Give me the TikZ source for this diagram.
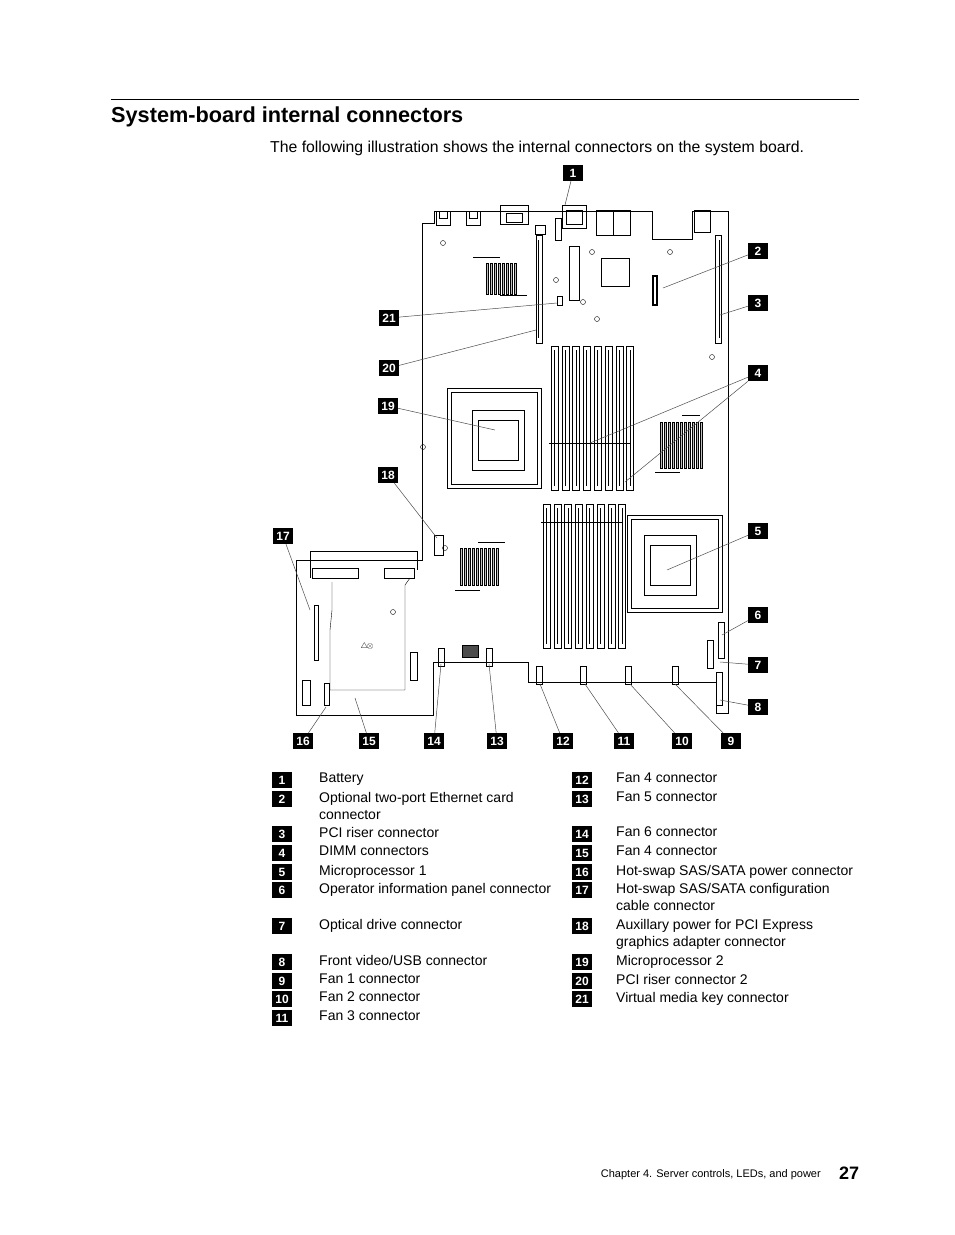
\documentclass[tikz,border=0pt]{standalone}
\usepackage{fontspec}
\setmainfont{Liberation Sans}
\begin{document}
\begin{tikzpicture}[x=1pt,y=-1pt,
 badge/.style={fill=black,text=white,font=\fontsize{12}{12}\selectfont\bfseries,minimum width=20pt,minimum height=16pt,inner sep=0pt},
 lbl/.style={anchor=north west,font=\fontsize{14}{17}\selectfont,inner sep=0pt,align=left},
 call/.style={draw=black!70,line width=0.5pt},
 part/.style={draw=black,line width=0.6pt},
 thin/.style={draw=black,line width=0.4pt}]
\useasboundingbox (0,0) rectangle (954,1235);
% header
\draw[line width=0.6pt] (111,99) -- (859,99);
\node[anchor=base west,inner sep=0pt,font=\fontsize{21.7}{24}\selectfont\bfseries] (title) at (111,122) {System-board internal connectors};
\node[anchor=base west,inner sep=0pt,font=\fontsize{15.8}{17}\selectfont] (intro) at (270,152) {The following illustration shows the internal connectors on the system board.};
% board outline
\draw[part] (434,211) -- (652,211) -- (652,239) -- (692,239) -- (692,211) -- (728,211) -- (728,713) -- (716,713) -- (716,682) -- (528,682) -- (528,662) -- (433,662) -- (433,715) -- (296,715) -- (296,560) -- (422,560) -- (422,223) -- (434,223) -- cycle;
% rear connectors
\foreach \x in {436,466} {\draw[thin] (\x,211) rectangle (\x+14,225); \draw[thin] (\x+3,211) rectangle (\x+11,218);}
\draw[thin] (500,205) rectangle (528,224); \draw[thin] (506,213) rectangle (522,222);
\draw[thin] (562,205) rectangle (586,228); \draw[thin] (566,210) rectangle (582,224);
\draw[thin] (596,210) rectangle (630,235); \draw[thin] (613,210) -- (613,235);
\draw[thin] (694,210) rectangle (710,232);
\draw[thin] (555,218) rectangle (561,240);
% riser slots
\draw[part] (536,235) rectangle (542,343); \draw[thin] (538,240) -- (538,338);
\draw[part] (715,235) rectangle (721,343); \draw[thin] (719,240) -- (719,338);
\draw[thin] (535,225) rectangle (545,234);
% middle components
\draw[thin] (569,246) rectangle (579,300);
\draw[thin] (601,258) rectangle (629,286);
\draw[part,line width=1.2pt] (653,276) rectangle (657,305);
\draw[thin] (557,296) rectangle (562,305);
\foreach \x/\y in {592/252, 556/280, 597/319, 583/302, 443/243, 670/252, 712/357, 445/548, 423/447, 393/612} \draw[thin] (\x,\y) circle (2.5);
% heatsinks
\foreach \i in {0,...,7} \draw[thin,fill=black!25] (486+\i*4,263) rectangle (488+\i*4,294);
\draw[thin] (473,257) -- (500,257) (500,295) -- (527,295);
\foreach \i in {0,...,10} \draw[thin,fill=black!25] (660+\i*4,422) rectangle (662+\i*4,468);
\draw[thin] (682,415) -- (700,415) (655,472) -- (680,472);
\foreach \i in {0,...,9} \draw[thin,fill=black!25] (460+\i*4,548) rectangle (462+\i*4,585);
\draw[thin] (478,542) -- (505,542) (455,590) -- (480,590);
% DIMMs
\foreach \i in {0,...,7} {
 \draw[thin] (551+\i*10.8,346) rectangle (558+\i*10.8,490); \draw[line width=1pt] (554.5+\i*10.8,350) -- (554.5+\i*10.8,486);
 \draw[thin] (543+\i*10.8,504) rectangle (550+\i*10.8,648); \draw[line width=1pt] (546.5+\i*10.8,508) -- (546.5+\i*10.8,644);}
\draw[thin] (549,443) -- (631,443); \draw[thin] (541,522) -- (622,522);
% CPU sockets
\draw[part] (447,388) rectangle (541,488); \draw[thin] (451,392) rectangle (537,484);
\draw[thin] (478,420) rectangle (518,460); \draw[thin] (472,410) rectangle (524,470);
\draw[part] (627,515) rectangle (722,612); \draw[thin] (631,519) rectangle (718,608);
\draw[thin] (650,545) rectangle (690,585); \draw[thin] (644,535) rectangle (696,595);
% left region
\draw[thin] (310,551) -- (417,551) -- (417,570); \draw[thin] (310,551) -- (310,578);
\draw[thin] (312,568) rectangle (358,578); \draw[thin] (384,568) rectangle (414,578);
\draw[thin] (332,582) -- (332,610) -- (330,630) -- (330,690) -- (405,690) -- (405,585) -- (410,578);
\draw[thin] (314,605) rectangle (318,660); \draw[thin] (302,680) rectangle (310,705);
\draw[thin] (324,683) rectangle (329,705); \draw[thin] (410,652) rectangle (417,680);
\draw[thin] (434,535) rectangle (443,555);
\node[font=\fontsize{8}{8}\selectfont,inner sep=0pt] (warn) at (367,646) {\(\triangle\!\otimes\)};
% fan connectors
\foreach \x/\y in {441/657, 489/657, 539/675, 583/675, 628/675, 675/675} \draw[thin] (\x-3,\y-9) rectangle (\x+3,\y+9);
\draw[thin,fill=black!70] (462,645) rectangle (478,657);
\draw[thin] (718,622) rectangle (724,658); \draw[thin] (707,640) rectangle (713,668); \draw[thin] (716,672) rectangle (722,705);
% callouts
\foreach \n/\bx/\by/\tx/\ty in {1/573/173/565/205, 2/758/251/663/288, 3/758/303/720/315, 5/758/531/667/570, 6/758/615/722/635, 7/758/665/720/662, 8/758/707/720/700, 9/731/741/675/684, 10/682/741/630/684, 11/624/741/585/684, 12/563/741/540/684, 13/497/741/489/664, 14/434/741/441/664, 15/369/741/355/698, 16/303/741/326/707, 17/283/536/310/610, 18/388/475/437/538, 19/388/406/495/430, 20/389/368/536/330, 21/389/318/557/303} {
 \node[badge] (b\n) at (\bx,\by) {\n};
 \coordinate (t\n) at (\tx,\ty);
 \draw[call] (b\n) -- (t\n);}
\node[badge] (b4) at (758,373) {4};
\coordinate (t4a) at (590,443); \coordinate (t4b) at (625,482);
\draw[call] (b4) -- (t4a); \draw[call] (b4) -- (t4b);
% legend
\foreach \n/\y/\t in {1/780/Battery, 2/799/{Optional two-port Ethernet card\\connector}, 3/834/PCI riser connector, 4/853/DIMM connectors, 5/872/Microprocessor 1, 6/890/Operator information panel connector, 7/926/Optical drive connector, 8/962/{Front video/USB connector}, 9/981/Fan 1 connector, 10/999/Fan 2 connector, 11/1018/Fan 3 connector} {
 \node[badge] (l\n) at (282,\y) {\n};
 \node[lbl] (lt\n) at (319,\y-7) {\t};}
\foreach \n/\y/\t in {12/780/Fan 4 connector, 13/799/Fan 5 connector, 14/834/Fan 6 connector, 15/853/Fan 4 connector, 16/872/{Hot-swap SAS/SATA power connector}, 17/890/{Hot-swap SAS/SATA configuration\\cable connector}, 18/926/{Auxillary power for PCI Express\\graphics adapter connector}, 19/962/Microprocessor 2, 20/981/PCI riser connector 2, 21/999/Virtual media key connector} {
 \node[badge] (l\n) at (582,\y) {\n};
 \node[lbl] (lt\n) at (616,\y-7) {\t};}
% footer
\node[anchor=base east,inner sep=0pt,font=\fontsize{11}{13}\selectfont] (foot) at (821,1177) {Chapter 4. Server controls, LEDs, and power};
\node[anchor=base west,inner sep=0pt,font=\fontsize{18}{20}\selectfont\bfseries] (page) at (839,1179) {27};
\end{tikzpicture}
\end{document}
